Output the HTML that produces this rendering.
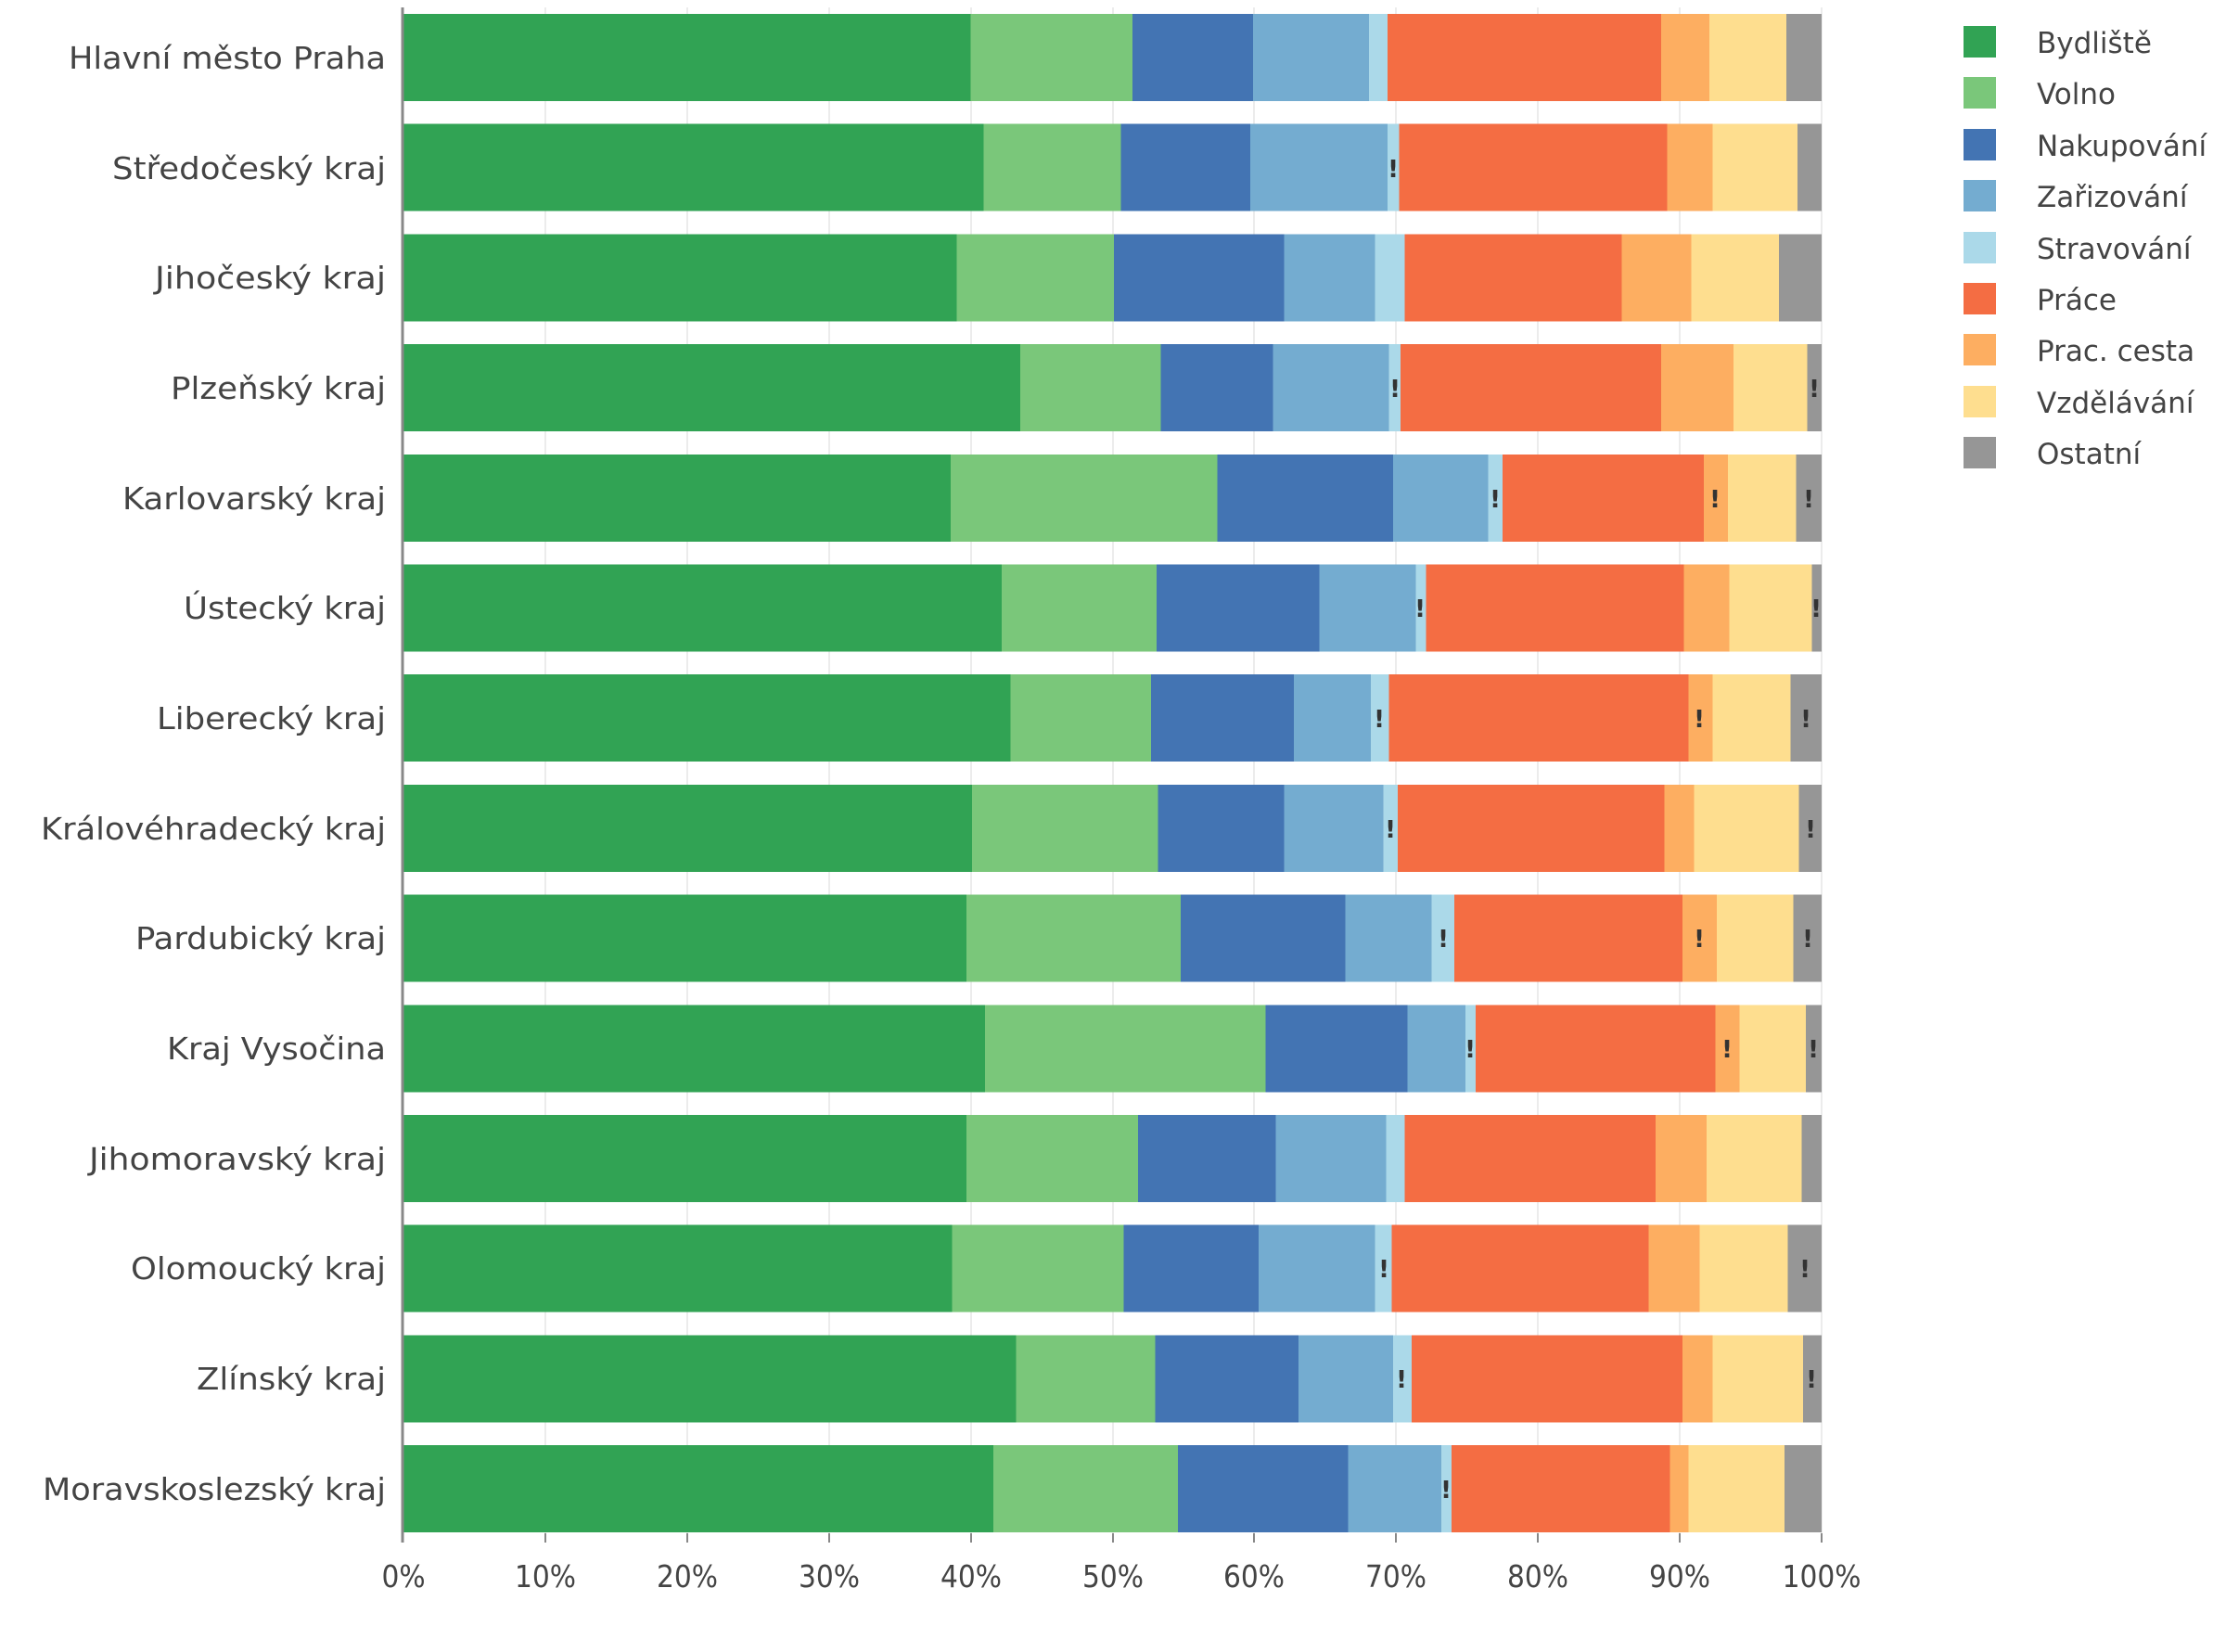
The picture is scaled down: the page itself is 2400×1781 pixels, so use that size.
<!DOCTYPE html>
<html><head><meta charset="utf-8"><style>html,body{margin:0;padding:0;background:#fff}svg{display:block}</style></head>
<body>
<svg width="2400" height="1781" xmlns="http://www.w3.org/2000/svg">
<g stroke="#ececec" stroke-width="2">
<line x1="588" y1="8" x2="588" y2="1663"/><line x1="741" y1="8" x2="741" y2="1663"/><line x1="894" y1="8" x2="894" y2="1663"/><line x1="1047" y1="8" x2="1047" y2="1663"/><line x1="1200" y1="8" x2="1200" y2="1663"/><line x1="1352" y1="8" x2="1352" y2="1663"/><line x1="1505" y1="8" x2="1505" y2="1663"/><line x1="1658" y1="8" x2="1658" y2="1663"/><line x1="1811" y1="8" x2="1811" y2="1663"/><line x1="1964" y1="8" x2="1964" y2="1663"/>
</g>
<g transform="translate(435,0) scale(15.29,1)" shape-rendering="crispEdges">
<g transform="translate(0,15)">
<rect x="0" width="40" height="94" fill="#31a354"/><rect x="40" width="11.4" height="94" fill="#7ac77a"/><rect x="51.4" width="8.5" height="94" fill="#4374b3"/><rect x="59.9" width="8.2" height="94" fill="#74acd0"/><rect x="68.1" width="1.3" height="94" fill="#abd9e9"/><rect x="69.4" width="19.3" height="94" fill="#f46d43"/><rect x="88.7" width="3.4" height="94" fill="#fdae61"/><rect x="92.1" width="5.4" height="94" fill="#fede8f"/><rect x="97.5" width="2.5" height="94" fill="#969696"/></g>
<g transform="translate(0,133.7)">
<rect x="0" width="40.9" height="94" fill="#31a354"/><rect x="40.9" width="9.7" height="94" fill="#7ac77a"/><rect x="50.6" width="9.1" height="94" fill="#4374b3"/><rect x="59.7" width="9.7" height="94" fill="#74acd0"/><rect x="69.4" width="0.8" height="94" fill="#abd9e9"/><rect x="70.2" width="18.9" height="94" fill="#f46d43"/><rect x="89.1" width="3.2" height="94" fill="#fdae61"/><rect x="92.3" width="6" height="94" fill="#fede8f"/><rect x="98.3" width="1.7" height="94" fill="#969696"/></g>
<g transform="translate(0,252.4)">
<rect x="0" width="39" height="94" fill="#31a354"/><rect x="39" width="11.1" height="94" fill="#7ac77a"/><rect x="50.1" width="12" height="94" fill="#4374b3"/><rect x="62.1" width="6.4" height="94" fill="#74acd0"/><rect x="68.5" width="2.1" height="94" fill="#abd9e9"/><rect x="70.6" width="15.3" height="94" fill="#f46d43"/><rect x="85.9" width="4.9" height="94" fill="#fdae61"/><rect x="90.8" width="6.2" height="94" fill="#fede8f"/><rect x="97" width="3" height="94" fill="#969696"/></g>
<g transform="translate(0,371.1)">
<rect x="0" width="43.5" height="94" fill="#31a354"/><rect x="43.5" width="9.9" height="94" fill="#7ac77a"/><rect x="53.4" width="7.9" height="94" fill="#4374b3"/><rect x="61.3" width="8.2" height="94" fill="#74acd0"/><rect x="69.5" width="0.8" height="94" fill="#abd9e9"/><rect x="70.3" width="18.4" height="94" fill="#f46d43"/><rect x="88.7" width="5.1" height="94" fill="#fdae61"/><rect x="93.8" width="5.2" height="94" fill="#fede8f"/><rect x="99" width="1" height="94" fill="#969696"/></g>
<g transform="translate(0,489.8)">
<rect x="0" width="38.6" height="94" fill="#31a354"/><rect x="38.6" width="18.8" height="94" fill="#7ac77a"/><rect x="57.4" width="12.4" height="94" fill="#4374b3"/><rect x="69.8" width="6.7" height="94" fill="#74acd0"/><rect x="76.5" width="1" height="94" fill="#abd9e9"/><rect x="77.5" width="14.2" height="94" fill="#f46d43"/><rect x="91.7" width="1.7" height="94" fill="#fdae61"/><rect x="93.4" width="4.8" height="94" fill="#fede8f"/><rect x="98.2" width="1.8" height="94" fill="#969696"/></g>
<g transform="translate(0,608.5)">
<rect x="0" width="42.2" height="94" fill="#31a354"/><rect x="42.2" width="10.9" height="94" fill="#7ac77a"/><rect x="53.1" width="11.5" height="94" fill="#4374b3"/><rect x="64.6" width="6.8" height="94" fill="#74acd0"/><rect x="71.4" width="0.7" height="94" fill="#abd9e9"/><rect x="72.1" width="18.2" height="94" fill="#f46d43"/><rect x="90.3" width="3.2" height="94" fill="#fdae61"/><rect x="93.5" width="5.8" height="94" fill="#fede8f"/><rect x="99.3" width="0.7" height="94" fill="#969696"/></g>
<g transform="translate(0,727.2)">
<rect x="0" width="42.8" height="94" fill="#31a354"/><rect x="42.8" width="9.9" height="94" fill="#7ac77a"/><rect x="52.7" width="10.1" height="94" fill="#4374b3"/><rect x="62.8" width="5.4" height="94" fill="#74acd0"/><rect x="68.2" width="1.3" height="94" fill="#abd9e9"/><rect x="69.5" width="21.1" height="94" fill="#f46d43"/><rect x="90.6" width="1.7" height="94" fill="#fdae61"/><rect x="92.3" width="5.5" height="94" fill="#fede8f"/><rect x="97.8" width="2.2" height="94" fill="#969696"/></g>
<g transform="translate(0,845.9)">
<rect x="0" width="40.1" height="94" fill="#31a354"/><rect x="40.1" width="13.1" height="94" fill="#7ac77a"/><rect x="53.2" width="8.9" height="94" fill="#4374b3"/><rect x="62.1" width="7" height="94" fill="#74acd0"/><rect x="69.1" width="1" height="94" fill="#abd9e9"/><rect x="70.1" width="18.8" height="94" fill="#f46d43"/><rect x="88.9" width="2.1" height="94" fill="#fdae61"/><rect x="91" width="7.4" height="94" fill="#fede8f"/><rect x="98.4" width="1.6" height="94" fill="#969696"/></g>
<g transform="translate(0,964.6)">
<rect x="0" width="39.7" height="94" fill="#31a354"/><rect x="39.7" width="15.1" height="94" fill="#7ac77a"/><rect x="54.8" width="11.6" height="94" fill="#4374b3"/><rect x="66.4" width="6.1" height="94" fill="#74acd0"/><rect x="72.5" width="1.6" height="94" fill="#abd9e9"/><rect x="74.1" width="16.1" height="94" fill="#f46d43"/><rect x="90.2" width="2.4" height="94" fill="#fdae61"/><rect x="92.6" width="5.4" height="94" fill="#fede8f"/><rect x="98" width="2" height="94" fill="#969696"/></g>
<g transform="translate(0,1083.3)">
<rect x="0" width="41" height="94" fill="#31a354"/><rect x="41" width="19.8" height="94" fill="#7ac77a"/><rect x="60.8" width="10" height="94" fill="#4374b3"/><rect x="70.8" width="4.1" height="94" fill="#74acd0"/><rect x="74.9" width="0.7" height="94" fill="#abd9e9"/><rect x="75.6" width="16.9" height="94" fill="#f46d43"/><rect x="92.5" width="1.7" height="94" fill="#fdae61"/><rect x="94.2" width="4.7" height="94" fill="#fede8f"/><rect x="98.9" width="1.1" height="94" fill="#969696"/></g>
<g transform="translate(0,1202)">
<rect x="0" width="39.7" height="94" fill="#31a354"/><rect x="39.7" width="12.1" height="94" fill="#7ac77a"/><rect x="51.8" width="9.7" height="94" fill="#4374b3"/><rect x="61.5" width="7.8" height="94" fill="#74acd0"/><rect x="69.3" width="1.3" height="94" fill="#abd9e9"/><rect x="70.6" width="17.7" height="94" fill="#f46d43"/><rect x="88.3" width="3.6" height="94" fill="#fdae61"/><rect x="91.9" width="6.7" height="94" fill="#fede8f"/><rect x="98.6" width="1.4" height="94" fill="#969696"/></g>
<g transform="translate(0,1320.7)">
<rect x="0" width="38.7" height="94" fill="#31a354"/><rect x="38.7" width="12.1" height="94" fill="#7ac77a"/><rect x="50.8" width="9.5" height="94" fill="#4374b3"/><rect x="60.3" width="8.2" height="94" fill="#74acd0"/><rect x="68.5" width="1.2" height="94" fill="#abd9e9"/><rect x="69.7" width="18.1" height="94" fill="#f46d43"/><rect x="87.8" width="3.6" height="94" fill="#fdae61"/><rect x="91.4" width="6.2" height="94" fill="#fede8f"/><rect x="97.6" width="2.4" height="94" fill="#969696"/></g>
<g transform="translate(0,1439.4)">
<rect x="0" width="43.2" height="94" fill="#31a354"/><rect x="43.2" width="9.8" height="94" fill="#7ac77a"/><rect x="53" width="10.1" height="94" fill="#4374b3"/><rect x="63.1" width="6.7" height="94" fill="#74acd0"/><rect x="69.8" width="1.3" height="94" fill="#abd9e9"/><rect x="71.1" width="19.1" height="94" fill="#f46d43"/><rect x="90.2" width="2.1" height="94" fill="#fdae61"/><rect x="92.3" width="6.4" height="94" fill="#fede8f"/><rect x="98.7" width="1.3" height="94" fill="#969696"/></g>
<g transform="translate(0,1558.1)">
<rect x="0" width="41.6" height="94" fill="#31a354"/><rect x="41.6" width="13" height="94" fill="#7ac77a"/><rect x="54.6" width="12" height="94" fill="#4374b3"/><rect x="66.6" width="6.6" height="94" fill="#74acd0"/><rect x="73.2" width="0.7" height="94" fill="#abd9e9"/><rect x="73.9" width="15.4" height="94" fill="#f46d43"/><rect x="89.3" width="1.3" height="94" fill="#fdae61"/><rect x="90.6" width="6.8" height="94" fill="#fede8f"/><rect x="97.4" width="2.6" height="94" fill="#969696"/></g>
</g>
<g font-family="'DejaVu Sans', sans-serif" font-size="26" font-weight="bold" fill="#333" text-anchor="middle">
<text x="1502" y="191">!</text>
<text x="1504" y="428">!</text><text x="1956" y="428">!</text>
<text x="1612" y="547">!</text><text x="1849" y="547">!</text><text x="1950" y="547">!</text>
<text x="1531" y="665">!</text><text x="1958" y="665">!</text>
<text x="1487" y="784">!</text><text x="1832" y="784">!</text><text x="1947" y="784">!</text>
<text x="1499" y="903">!</text><text x="1952" y="903">!</text>
<text x="1556" y="1021">!</text><text x="1832" y="1021">!</text><text x="1949" y="1021">!</text>
<text x="1585" y="1140">!</text><text x="1862" y="1140">!</text><text x="1955" y="1140">!</text>
<text x="1492" y="1377">!</text><text x="1946" y="1377">!</text>
<text x="1511" y="1496">!</text><text x="1953" y="1496">!</text>
<text x="1559" y="1615">!</text>
</g>
<line x1="434" y1="8" x2="434" y2="1663" stroke="#888" stroke-width="3"/>
<g stroke="#888" stroke-width="2">
<line x1="588" y1="1653" x2="588" y2="1663"/><line x1="741" y1="1653" x2="741" y2="1663"/><line x1="894" y1="1653" x2="894" y2="1663"/><line x1="1047" y1="1653" x2="1047" y2="1663"/><line x1="1200" y1="1653" x2="1200" y2="1663"/><line x1="1352" y1="1653" x2="1352" y2="1663"/><line x1="1505" y1="1653" x2="1505" y2="1663"/><line x1="1658" y1="1653" x2="1658" y2="1663"/><line x1="1811" y1="1653" x2="1811" y2="1663"/><line x1="1964" y1="1653" x2="1964" y2="1663"/>
</g>
<g font-family="'DejaVu Sans Condensed','DejaVu Sans', sans-serif" font-size="33" fill="#444" text-anchor="end">
<text x="416" y="74" textLength="342" lengthAdjust="spacingAndGlyphs">Hlavní město Praha</text>
<text x="416" y="193" textLength="295" lengthAdjust="spacingAndGlyphs">Středočeský kraj</text>
<text x="416" y="311" textLength="249" lengthAdjust="spacingAndGlyphs">Jihočeský kraj</text>
<text x="416" y="430" textLength="232" lengthAdjust="spacingAndGlyphs">Plzeňský kraj</text>
<text x="416" y="549" textLength="284" lengthAdjust="spacingAndGlyphs">Karlovarský kraj</text>
<text x="416" y="667" textLength="218" lengthAdjust="spacingAndGlyphs">Ústecký kraj</text>
<text x="416" y="786" textLength="247" lengthAdjust="spacingAndGlyphs">Liberecký kraj</text>
<text x="416" y="905" textLength="372" lengthAdjust="spacingAndGlyphs">Královéhradecký kraj</text>
<text x="416" y="1023" textLength="270" lengthAdjust="spacingAndGlyphs">Pardubický kraj</text>
<text x="416" y="1142" textLength="236" lengthAdjust="spacingAndGlyphs">Kraj Vysočina</text>
<text x="416" y="1261" textLength="320" lengthAdjust="spacingAndGlyphs">Jihomoravský kraj</text>
<text x="416" y="1379" textLength="275" lengthAdjust="spacingAndGlyphs">Olomoucký kraj</text>
<text x="416" y="1498" textLength="204" lengthAdjust="spacingAndGlyphs">Zlínský kraj</text>
<text x="416" y="1617" textLength="370" lengthAdjust="spacingAndGlyphs">Moravskoslezský kraj</text>
</g>
<g font-family="'DejaVu Sans Condensed','DejaVu Sans', sans-serif" font-size="33" fill="#444" text-anchor="middle">
<text x="435" y="1711">0%</text><text x="588" y="1711">10%</text><text x="741" y="1711">20%</text><text x="894" y="1711">30%</text><text x="1047" y="1711">40%</text><text x="1200" y="1711">50%</text><text x="1352" y="1711">60%</text><text x="1505" y="1711">70%</text><text x="1658" y="1711">80%</text><text x="1811" y="1711">90%</text><text x="1964" y="1711">100%</text>
</g>
<g>
<rect x="2117" y="28" width="35" height="34" fill="#31a354"/>
<rect x="2117" y="83" width="35" height="34" fill="#7ac77a"/>
<rect x="2117" y="139" width="35" height="34" fill="#4374b3"/>
<rect x="2117" y="194" width="35" height="34" fill="#74acd0"/>
<rect x="2117" y="250" width="35" height="34" fill="#abd9e9"/>
<rect x="2117" y="305" width="35" height="34" fill="#f46d43"/>
<rect x="2117" y="360" width="35" height="34" fill="#fdae61"/>
<rect x="2117" y="416" width="35" height="34" fill="#fede8f"/>
<rect x="2117" y="471" width="35" height="34" fill="#969696"/>
</g>
<g font-family="'DejaVu Sans', sans-serif" font-size="31" fill="#444">
<text x="2196" y="57">Bydliště</text>
<text x="2196" y="112">Volno</text>
<text x="2196" y="168">Nakupování</text>
<text x="2196" y="223">Zařizování</text>
<text x="2196" y="279">Stravování</text>
<text x="2196" y="334">Práce</text>
<text x="2196" y="389">Prac. cesta</text>
<text x="2196" y="445">Vzdělávání</text>
<text x="2196" y="500">Ostatní</text>
</g>
</svg>
</body></html>
